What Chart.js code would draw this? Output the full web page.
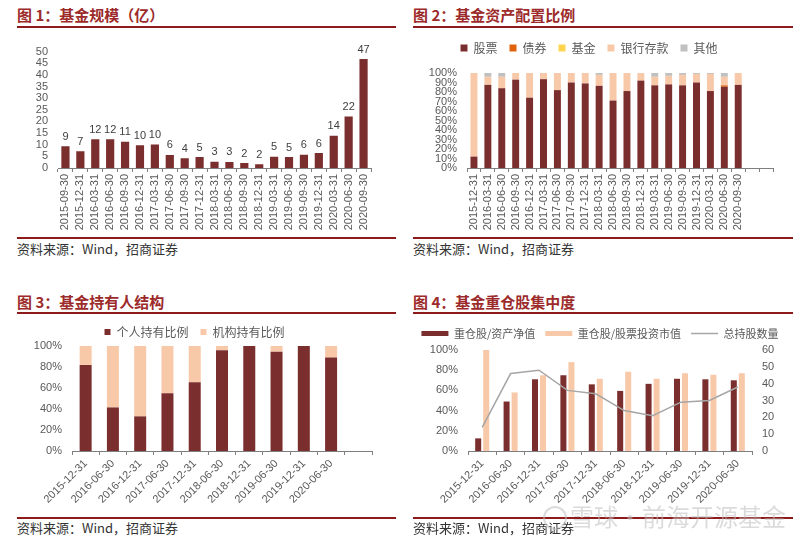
<!DOCTYPE html>
<html>
<head>
<meta charset="utf-8">
<script src="https://cdn.jsdelivr.net/npm/chart.js@4.4.0/dist/chart.umd.min.js"></script>
<style>
body { margin: 0; background: #fff; }
#page { position: relative; width: 800px; height: 543px; overflow: hidden; font-family: 'Noto Sans CJK SC', sans-serif; }
.title { position: absolute; font-size: 15px; font-weight: bold; color: #9c2a2a; line-height: 18px; white-space: nowrap; }
.rule { position: absolute; height: 2px; background: #8e1b1b; }
.src { position: absolute; font-size: 13px; color: #333; line-height: 16px; white-space: nowrap; }
canvas { position: absolute; }
.mark { position: absolute; font-size: 24px; color: rgba(190,190,190,0.55); white-space: nowrap; line-height: 28px; }
.logo { position: absolute; width: 20px; height: 20px; border: 2px solid rgba(190,190,190,0.55); border-radius: 50%; }
</style>
</head>
<body>
<div id="page">
  <div class="title" style="left:17px; top:6px;">图 1：基金规模（亿）</div>
  <div class="rule" style="left:17px; top:26px; width:379px;"></div>
  <canvas id="sizeChart" width="378" height="200" style="left:17px; top:35px;"></canvas>
  <div class="rule" style="left:17px; top:237px; width:379px;"></div>
  <div class="src" style="left:17px; top:241px;">资料来源：Wind，招商证券</div>

  <div class="title" style="left:413px; top:6px;">图 2：基金资产配置比例</div>
  <div class="rule" style="left:413px; top:26px; width:380px;"></div>
  <canvas id="allocChart" width="390" height="205" style="left:405px; top:30px;"></canvas>
  <div class="rule" style="left:413px; top:237px; width:380px;"></div>
  <div class="src" style="left:413px; top:241px;">资料来源：Wind，招商证券</div>

  <div class="title" style="left:17px; top:293px;">图 3：基金持有人结构</div>
  <div class="rule" style="left:17px; top:312px; width:379px;"></div>
  <canvas id="holderChart" width="378" height="199" style="left:17px; top:314px;"></canvas>
  <div class="rule" style="left:17px; top:517px; width:379px;"></div>
  <div class="src" style="left:17px; top:520px;">资料来源：Wind，招商证券</div>

  <div class="title" style="left:413px; top:293px;">图 4：基金重仓股集中度</div>
  <div class="rule" style="left:413px; top:312px; width:380px;"></div>
  <canvas id="topChart" width="390" height="195" style="left:405px; top:318px;"></canvas>
  <div class="rule" style="left:413px; top:517px; width:380px;"></div>
  <div class="src" style="left:413px; top:520px;">资料来源：Wind，招商证券</div>

  <div class="logo" style="left:543px; top:506px;"></div>
  <div class="mark" style="left:570px; top:502px;">雪球·前海开源基金</div>
</div>

<script>
// fig 1: fund size (100m)
var sizeDates = ['2015-09-30', '2015-12-31', '2016-03-31', '2016-06-30', '2016-09-30', '2016-12-31', '2017-03-31',
    '2017-06-30', '2017-09-30', '2017-12-31', '2018-03-31', '2018-06-30', '2018-09-30', '2018-12-31',
    '2019-03-31', '2019-06-30', '2019-09-30', '2019-12-31', '2020-03-31', '2020-06-30', '2020-09-30'];
var sizeValues = [9.3, 7.2, 12.4, 12.3, 11.3, 9.8, 10.1, 5.6, 4.2, 4.7, 2.7, 2.6, 2.1, 1.6, 4.8, 4.7, 5.7, 6.4, 13.8, 22.1, 46.8];
var sizeTicks = [0, 50, 5];

// fig 2: asset allocation (%), two empty slots at the end
var allocDates = ['2015-12-31', '2016-03-31', '2016-06-30', '2016-09-30', '2016-12-31', '2017-03-31', '2017-06-30',
    '2017-09-30', '2017-12-31', '2018-03-31', '2018-06-30', '2018-09-30', '2018-12-31', '2019-03-31',
    '2019-06-30', '2019-09-30', '2019-12-31', '2020-03-31', '2020-06-30', '2020-09-30', '', ''];
var stockPct = [12, 87.5, 84, 93, 74, 93.5, 82, 90, 89, 86.5, 71, 81, 92, 87, 88, 87, 90, 81, 85.5, 87.5];
var bondPct  = [0, 0, 0, 0, 0, 0, 0, 0, 0, 0, 0, 0, 0, 0, 0, 0, 0, 0, 1.5, 0];
var fundPct  = [0, 0, 0, 0, 0, 0, 0, 0, 0, 0, 0, 0, 0, 0, 0, 0, 0, 0, 0, 0];
var bankPct  = [88, 8.5, 12, 7, 26, 6.5, 18, 10, 11, 11.5, 29, 19, 8, 9, 9, 11, 9, 18, 9, 12.5];
var otherPct = [0, 4, 4, 0, 0, 0, 0, 0, 0, 2, 0, 0, 0, 4, 3, 2, 1, 1, 4, 0];

// fig 3: holder structure (%), one empty slot at the end
var holderDates = ['2015-12-31', '2016-06-30', '2016-12-31', '2017-06-30', '2017-12-31',
    '2018-06-30', '2018-12-31', '2019-06-30', '2019-12-31', '2020-06-30', ''];
var retailPct = [82, 41.5, 33, 55, 65.5, 96, 100, 94.5, 100, 89];
var instPct   = [18, 58.5, 67, 45, 34.5, 4, 0, 5.5, 0, 11];

// fig 4: concentration of top holdings
var topDates = ['2015-12-31', '2016-06-30', '2016-12-31', '2017-06-30', '2017-12-31',
    '2018-06-30', '2018-12-31', '2019-06-30', '2019-12-31', '2020-06-30'];
var topToNav   = [12.5, 49, 71, 75, 66, 59.5, 66.5, 71.5, 71, 70];
var topToStock = [100, 58, 75, 88, 71.5, 78.5, 71.5, 77, 75.5, 77];
var stockCount = [14, 46, 48, 36, 34, 24, 21, 29, 30, 38];

var DARK = '#7b2e2e', PEACH = '#f8c9a9', GREY = '#c0c0c0', ORANGE = '#e0620d', YELLOW = '#ffd54f';
var AXIS = '#7f7f7f', TEXT = '#595959';
var CJK = "'Noto Sans CJK SC', sans-serif";

Chart.defaults.font.family = "'Liberation Sans', 'Noto Sans CJK SC', sans-serif";
Chart.defaults.font.size = 11;
Chart.defaults.color = TEXT;
Chart.defaults.animation = false;
Chart.defaults.plugins.tooltip.enabled = false;

function xAxis(rot, h)
{
    return {
        grid: {display: true, drawOnChartArea: false, drawTicks: true, tickLength: 4, color: AXIS, offset: true},
        border: {color: AXIS},
        ticks: {autoSkip: false, minRotation: rot, maxRotation: rot, padding: 2, color: TEXT},
        afterFit: function (s) { s.height = h; }
    };
}

function yAxis(min, max, step, pct, w, pos, stacked)
{
    return {
        position: pos || 'left',
        stacked: !!stacked,
        min: min, max: max,
        grid: {display: false, drawTicks: false},
        border: {display: false},
        ticks: {
            stepSize: step, autoSkip: false, padding: 10, color: TEXT,
            callback: function (v) { return pct ? v + '%' : v; }
        },
        afterFit: function (s) { s.width = w; }
    };
}

// pushes the plot area down under the legend by a few px
var legendGap = {
    id: 'legendGap',
    beforeLayout: function (chart, args, opts)
    {
        var lg = chart.legend;
        if (!lg || lg._gapDone) return;
        var fit = lg.fit;
        lg.fit = function () {
            fit.call(this);
            this.height += opts.extra || 0;
        };
        lg._gapDone = true;
    }
};

var valueLabels = {
    id: 'valueLabels',
    afterDatasetsDraw: function (chart)
    {
        var ctx = chart.ctx;
        var meta = chart.getDatasetMeta(0);
        var data = chart.data.datasets[0].data;
        ctx.save();
        ctx.font = "11px 'Liberation Sans', sans-serif";
        ctx.fillStyle = '#404040';
        ctx.textAlign = 'center';
        ctx.textBaseline = 'bottom';
        meta.data.forEach(function (bar, i) {
            ctx.fillText(Math.round(data[i]), bar.x, bar.y - 4);
        });
        ctx.restore();
    }
};

// fig 1
new Chart(document.getElementById('sizeChart'), {
    type: 'bar',
    data: {
        labels: sizeDates,
        datasets: [{data: sizeValues, backgroundColor: DARK, barPercentage: 0.55, categoryPercentage: 1}]
    },
    options: {
        responsive: false,
        layout: {padding: {top: 8, right: 24, left: 0, bottom: 0}},
        plugins: {legend: {display: false}},
        scales: {
            x: xAxis(90, 67),
            y: yAxis(sizeTicks[0], sizeTicks[1], sizeTicks[2], false, 41)
        }
    },
    plugins: [valueLabels]
});

// fig 2
var legendFont = {family: CJK, size: 12};
new Chart(document.getElementById('allocChart'), {
    type: 'bar',
    data: {
        labels: allocDates,
        datasets: [
            {label: '股票', data: stockPct, backgroundColor: DARK},
            {label: '债券', data: bondPct, backgroundColor: ORANGE},
            {label: '基金', data: fundPct, backgroundColor: YELLOW},
            {label: '银行存款', data: bankPct, backgroundColor: PEACH},
            {label: '其他', data: otherPct, backgroundColor: GREY}
        ].map(function (d) { d.barPercentage = 0.5; d.categoryPercentage = 1; return d; })
    },
    options: {
        responsive: false,
        layout: {padding: {top: 0, right: 22, left: 0, bottom: 0}},
        plugins: {
            legend: {labels: {boxWidth: 7, boxHeight: 7, padding: 12, font: legendFont, color: TEXT}},
            legendGap: {extra: 9}
        },
        scales: {
            x: Object.assign(xAxis(90, 67), {stacked: true}),
            y: yAxis(0, 100, 10, true, 62, 'left', true)
        }
    },
    plugins: [legendGap]
});

// fig 3
new Chart(document.getElementById('holderChart'), {
    type: 'bar',
    data: {
        labels: holderDates,
        datasets: [
            {label: '个人持有比例', data: retailPct, backgroundColor: DARK},
            {label: '机构持有比例', data: instPct, backgroundColor: PEACH}
        ].map(function (d) { d.barPercentage = 0.44; d.categoryPercentage = 1; return d; })
    },
    options: {
        responsive: false,
        layout: {padding: {top: 0, right: 23, left: 0, bottom: 0}},
        plugins: {
            legend: {labels: {boxWidth: 6, boxHeight: 6, padding: 12, font: legendFont, color: TEXT}},
            legendGap: {extra: -2}
        },
        scales: {
            x: Object.assign(xAxis(45, 62), {stacked: true}),
            y: yAxis(0, 100, 20, true, 55, 'left', true)
        }
    },
    plugins: [legendGap]
});

// fig 4
new Chart(document.getElementById('topChart'), {
    data: {
        labels: topDates,
        datasets: [
            {type: 'bar', label: '重仓股/资产净值', data: topToNav, backgroundColor: DARK, pointStyle: 'rect',
                barPercentage: 0.75, categoryPercentage: 0.565, yAxisID: 'y', order: 1},
            {type: 'bar', label: '重仓股/股票投资市值', data: topToStock, backgroundColor: PEACH, pointStyle: 'rect',
                barPercentage: 0.75, categoryPercentage: 0.565, yAxisID: 'y', order: 1},
            {type: 'line', label: '总持股数量', data: stockCount, borderColor: '#a6a6a6', backgroundColor: '#a6a6a6',
                borderWidth: 1.5, pointRadius: 0, pointStyle: 'line', tension: 0, yAxisID: 'y1', order: 0}
        ]
    },
    options: {
        responsive: false,
        layout: {padding: {top: 0, right: 0, left: 0, bottom: 0}},
        plugins: {
            legend: {
                labels: {
                    usePointStyle: true, pointStyleWidth: 27, boxHeight: 5, padding: 10,
                    font: {family: CJK, size: 11}, color: TEXT,
                    sort: function (a, b) { return a.datasetIndex - b.datasetIndex; }
                }
            },
            legendGap: {extra: 1}
        },
        scales: {
            x: xAxis(45, 62),
            y: yAxis(0, 100, 20, true, 63, 'left'),
            y1: yAxis(0, 60, 10, false, 43, 'right')
        }
    },
    plugins: [legendGap]
});
</script>
</body>
</html>
